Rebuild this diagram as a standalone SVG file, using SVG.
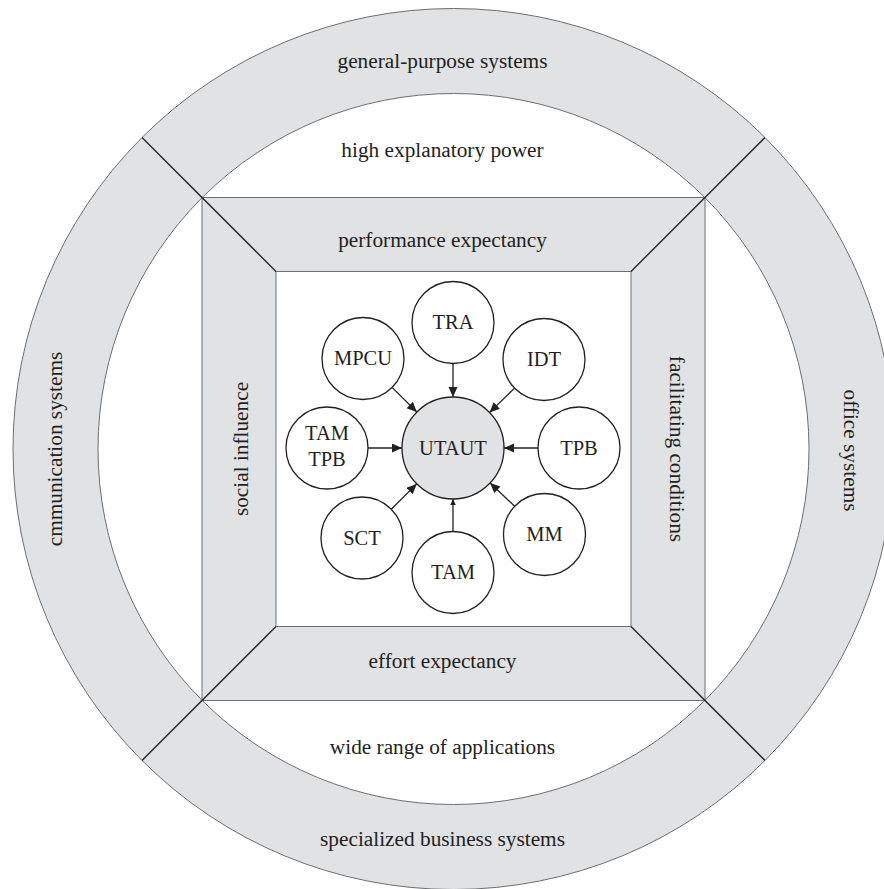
<svg xmlns="http://www.w3.org/2000/svg" width="884" height="889" viewBox="0 0 884 889">
<style>
.band{fill:#e1e2e4;stroke:#6d6e71;stroke-width:1}
.hole{fill:#ffffff;stroke:#6d6e71;stroke-width:1}
.div{stroke:#231f20;stroke-width:1.3;fill:none}
.lbl{font-family:"Liberation Serif","Times New Roman",serif;font-size:21.3px;fill:#231f20;text-anchor:middle}
.node{fill:#ffffff;stroke:#231f20;stroke-width:1.3}
.core{fill:#e1e2e4;stroke:#231f20;stroke-width:1.3}
.nt{font-family:"Liberation Serif","Times New Roman",serif;font-size:20.5px;fill:#231f20;text-anchor:middle}
.arr{stroke:#231f20;stroke-width:1.3;fill:none;marker-end:url(#ah)}
</style>
<defs>
<marker id="ah" markerUnits="userSpaceOnUse" markerWidth="11" markerHeight="10" refX="10" refY="4.5" orient="auto">
<path d="M0,0 L10,4.5 L0,9 z" fill="#231f20"/>
</marker>
<marker id="ahs" markerUnits="userSpaceOnUse" markerWidth="7" markerHeight="6" refX="6" refY="2.75" orient="auto">
<path d="M0,0 L6,2.75 L0,5.5 z" fill="#231f20"/>
</marker>
</defs>
<rect width="884" height="889" fill="#ffffff"/>
<g id="rings">
<circle class="band" cx="453.5" cy="449" r="440.5"/>
<circle class="hole" cx="453.5" cy="449" r="355.5"/>
<rect class="band" x="202" y="197.5" width="503" height="503"/>
<rect class="hole" x="276" y="271.5" width="355" height="355"/>
<line class="div" x1="142" y1="137.5" x2="276" y2="271.5"/>
<line class="div" x1="765" y1="137.5" x2="631" y2="271.5"/>
<line class="div" x1="142" y1="760.5" x2="276" y2="626.5"/>
<line class="div" x1="765" y1="760.5" x2="631" y2="626.5"/>
</g>
<g id="labels">
<text class="lbl" x="442.5" y="68">general-purpose systems</text>
<text class="lbl" x="442.5" y="157">high explanatory power</text>
<text class="lbl" x="442.5" y="247.3">performance expectancy</text>
<text class="lbl" x="442.5" y="668.3">effort expectancy</text>
<text class="lbl" x="442.5" y="754.3">wide range of applications</text>
<text class="lbl" x="442.5" y="845.5">specialized business systems</text>
<text class="lbl" transform="translate(62,449) rotate(-90)">cmmunication systems</text>
<text class="lbl" transform="translate(247.5,449) rotate(-90)">social influence</text>
<text class="lbl" transform="translate(669.5,449) rotate(90)">facilitating conditions</text>
<text class="lbl" transform="translate(844,450.5) rotate(90)">office systems</text>
</g>
<g id="connectors">
<line class="arr" x1="453" y1="363.5" x2="453" y2="397"/>
<line x1="453" y1="531.5" x2="453" y2="499" stroke="#231f20" stroke-width="1.3" marker-end="url(#ahs)"/>
<line class="arr" x1="368" y1="448" x2="402" y2="448"/>
<line class="arr" x1="538" y1="448" x2="504" y2="448"/>
<line class="arr" x1="392.1" y1="387.4" x2="416.8" y2="412"/>
<line class="arr" x1="514.6" y1="388.1" x2="489.6" y2="412.4"/>
<line class="arr" x1="391.2" y1="509.2" x2="416.7" y2="483.9"/>
<line class="arr" x1="514.7" y1="506.3" x2="490.1" y2="483"/>
</g>
<g id="node-utaut"><circle class="core" cx="453" cy="448" r="51"/><text class="nt" x="453" y="454.5">UTAUT</text></g>
<g id="node-tra"><circle class="node" cx="453" cy="322.5" r="41"/><text class="nt" x="453" y="329">TRA</text></g>
<g id="node-tam"><circle class="node" cx="453" cy="572.5" r="41"/><text class="nt" x="453" y="579">TAM</text></g>
<g id="node-tamtpb"><circle class="node" cx="327" cy="448" r="41"/><text class="nt" x="327" y="440.3">TAM</text><text class="nt" x="327" y="466">TPB</text></g>
<g id="node-tpb"><circle class="node" cx="579" cy="448" r="41"/><text class="nt" x="579" y="454.5">TPB</text></g>
<g id="node-mpcu"><circle class="node" cx="363" cy="358.5" r="41"/><text class="nt" x="363" y="365">MPCU</text></g>
<g id="node-idt"><circle class="node" cx="544" cy="359.5" r="41"/><text class="nt" x="544" y="366">IDT</text></g>
<g id="node-sct"><circle class="node" cx="362" cy="538" r="41"/><text class="nt" x="362" y="544.5">SCT</text></g>
<g id="node-mm"><circle class="node" cx="544.5" cy="534.5" r="41"/><text class="nt" x="544.5" y="541">MM</text></g>
</svg>
